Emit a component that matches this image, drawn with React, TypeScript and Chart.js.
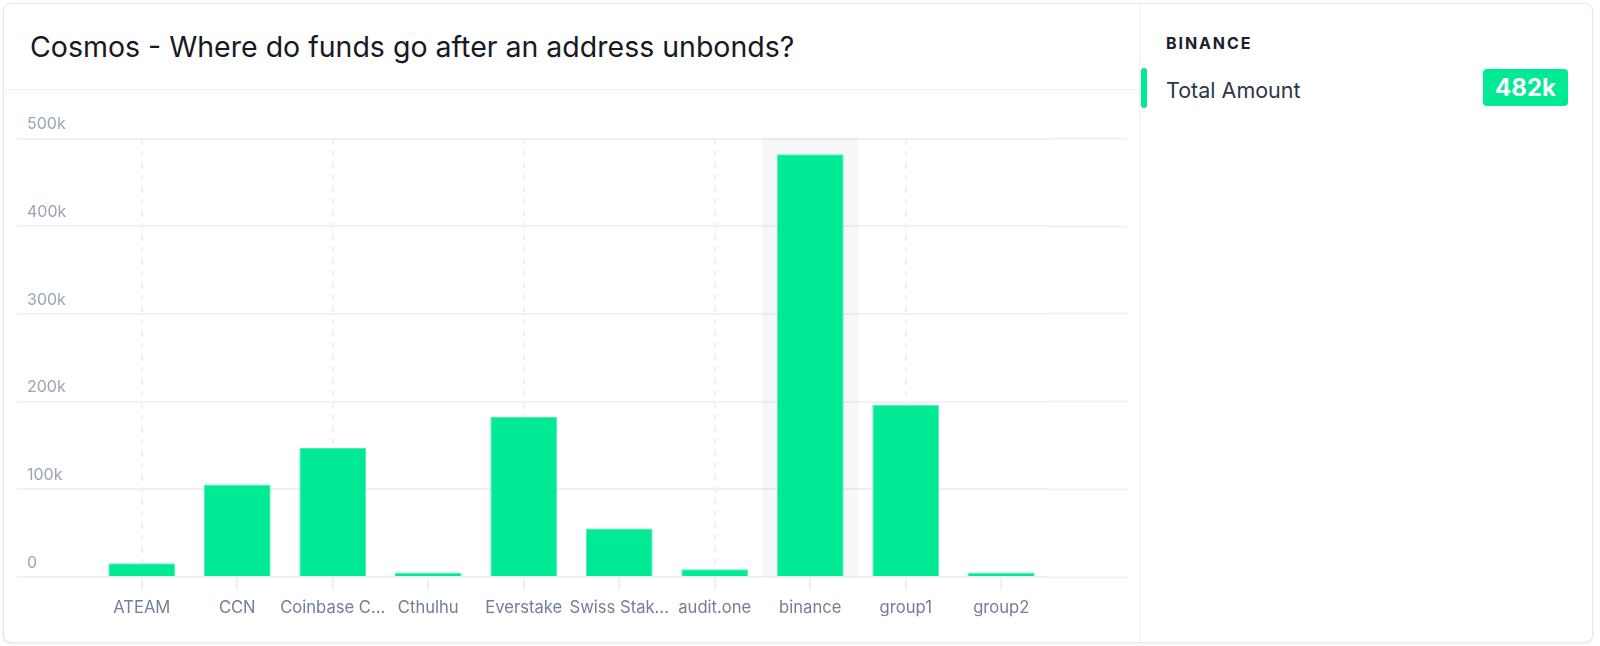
import React, { useEffect, useRef } from 'react';
import { Chart, registerables } from 'chart.js';

Chart.register(...registerables);

const categories = ['ATEAM', 'CCN', 'Coinbase C...', 'Cthulhu', 'Everstake', 'Swiss Stak...', 'audit.one', 'binance', 'group1', 'group2'];
const totalAmount = [15600, 105500, 147000, 5000, 182300, 55300, 8800, 482000, 196500, 5000];
const yTickValues = [0, 100000, 200000, 300000, 400000, 500000];
const yTickLabels = ['0', '100k', '200k', '300k', '400k', '500k'];
const highlightIndex = 7;
const highlightName = 'BINANCE';
const highlightSeries = 'Total Amount';
const highlightValue = '482k';
const chartTitle = 'Cosmos - Where do funds go after an address unbonds?';

const GREEN = '#00e994';
const GRID = '#eef1f5';
const FONT = 'Inter, "Noto Sans", sans-serif';

const highlightPlugin = {
  id: 'categoryHighlight',
  beforeDatasetsDraw(chart: any) {
    const xs = chart.scales.x;
    const area = chart.chartArea;
    const w = (xs.right - xs.left) / categories.length;
    const c = xs.getPixelForValue(highlightIndex);
    const ctx = chart.ctx;
    ctx.save();
    ctx.fillStyle = 'rgba(30,40,60,0.035)';
    ctx.fillRect(c - w / 2, area.top, w, area.bottom - area.top);
    ctx.restore();
  },
};

function BarChart() {
  const ref = useRef<HTMLCanvasElement | null>(null);
  useEffect(() => {
    if (!ref.current) return;
    const chart = new Chart(ref.current, {
      type: 'bar',
      data: {
        labels: categories,
        datasets: [
          {
            label: highlightSeries,
            data: totalAmount,
            backgroundColor: GREEN,
            borderColor: '#4cefb2',
            borderWidth: { left: 1, right: 1, top: 1, bottom: 0 },
            barPercentage: 0.7,
            categoryPercentage: 1.0,
            yAxisID: 'y',
          },
        ],
      },
      options: {
        animation: false,
        responsive: false,
        maintainAspectRatio: false,
        events: [],
        layout: { padding: { left: 27, right: 11, top: 47.5, bottom: 2 } },
        plugins: { legend: { display: false }, tooltip: { enabled: false } },
        scales: {
          x: {
            type: 'category',
            offset: true,
            grid: {
              offset: false,
              color: (c: any) => (c.index % 2 === 0 ? GRID : 'rgba(0,0,0,0)'),
              lineWidth: 2,
              drawTicks: true,
              tickLength: 13,
              tickColor: '#dde2e8',
              tickWidth: 1,
              tickBorderDash: [],
            },
            border: { display: false, dash: [6, 6] },
            ticks: {
              color: '#718096',
              font: { family: FONT, size: 16.6 },
              padding: 8,
              autoSkip: false,
              maxRotation: 0,
            },
            afterFit: (s: any) => {
              s.height = 60;
            },
          },
          y: {
            position: 'left',
            min: 0,
            max: 500000,
            grid: {
              color: GRID,
              lineWidth: 2,
              drawTicks: true,
              tickLength: 77,
              tickColor: GRID,
              tickWidth: 2,
            },
            border: { display: false },
            ticks: {
              stepSize: 100000,
              color: '#9aa5b4',
              font: { family: FONT, size: 16 },
              crossAlign: 'far',
              labelOffset: -14,
              padding: 0,
              callback: (v: any) => {
                const i = yTickValues.indexOf(Number(v));
                return i >= 0 ? yTickLabels[i] : '';
              },
            },
            afterFit: (s: any) => {
              s.width = 67;
            },
          },
          y2: {
            position: 'right',
            min: 0,
            max: 500000,
            grid: {
              drawOnChartArea: false,
              drawTicks: true,
              tickLength: 78,
              tickColor: GRID,
              tickWidth: 2,
              color: GRID,
            },
            border: { display: false },
            ticks: { stepSize: 100000, display: false },
            afterFit: (s: any) => {
              s.width = 78;
            },
          },
        },
      } as any,
      plugins: [highlightPlugin],
    });
    return () => chart.destroy();
  }, []);
  return (
    <canvas
      ref={ref}
      width={1138}
      height={548}
      style={{ position: 'absolute', left: 0, top: 91, width: 1138, height: 548 }}
    />
  );
}

export default function App() {
  return (
    <div style={{ position: 'absolute', left: 0, top: 0, width: 1600, height: 646, background: '#fff', fontFamily: FONT, overflow: 'hidden' }}>
      <div
        style={{
          position: 'absolute',
          left: 3,
          top: 3,
          width: 1588,
          height: 638,
          border: '1px solid #e4e6ea',
          borderRadius: 8,
          boxShadow: '0 1px 3px rgba(0,0,0,0.08)',
          background: '#fff',
        }}
      />
      <div style={{ position: 'absolute', left: 4, top: 89, width: 1136, height: 1, background: '#eef0f3' }} />
      <div style={{ position: 'absolute', left: 1139, top: 4, width: 1, height: 638, background: '#eef0f3' }} />
      <div
        style={{
          position: 'absolute',
          left: 30,
          top: 29,
          fontSize: 28.5,
          lineHeight: '36px',
          color: '#171923',
          whiteSpace: 'nowrap',
        }}
      >
        {chartTitle}
      </div>
      <BarChart />
      <div
        style={{
          position: 'absolute',
          left: 1166,
          top: 33,
          fontSize: 16,
          lineHeight: '20px',
          fontWeight: 700,
          letterSpacing: 1.9,
          color: '#1a202c',
        }}
      >
        {highlightName}
      </div>
      <div style={{ position: 'absolute', left: 1141, top: 68, width: 6, height: 40, borderRadius: 3, background: GREEN }} />
      <div style={{ position: 'absolute', left: 1166, top: 76, fontSize: 21.5, lineHeight: '28px', color: '#2d3748' }}>
        {highlightSeries}
      </div>
      <div
        style={{
          position: 'absolute',
          left: 1483,
          top: 69,
          width: 85,
          height: 37,
          borderRadius: 4,
          background: GREEN,
          color: '#fff',
          fontWeight: 700,
          fontSize: 24,
          lineHeight: '37px',
          textAlign: 'center',
        }}
      >
        {highlightValue}
      </div>
    </div>
  );
}
